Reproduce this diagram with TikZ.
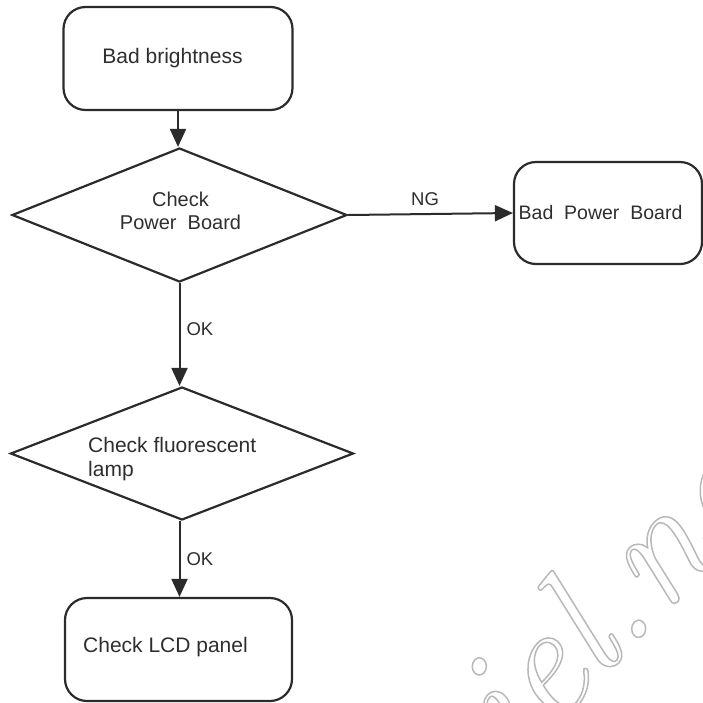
\documentclass[tikz,border=0pt]{standalone}
\usepackage{fontspec}
\setmainfont{Liberation Sans}
\newfontfamily\wmfont{Latin Modern Roman}
\usetikzlibrary{shapes.geometric,arrows.meta}
\definecolor{ink}{HTML}{2B2B2B}
\definecolor{txt}{HTML}{2E2E2E}
\tikzset{
  rbox/.style={draw=ink, line width=2.2pt, rounded corners=22pt, inner sep=0pt},
  dia/.style={draw=ink, line width=2.2pt, shape=diamond, inner sep=0pt},
  lbl/.style={text=txt, font=\fontsize{21}{24}\selectfont, inner sep=0pt},
  small/.style={text=txt, font=\fontsize{18.5}{21}\selectfont, inner sep=0pt},
  conn/.style={draw=ink, line width=2pt, -{Triangle[length=18pt,width=16pt]}}
}
\begin{document}
\begin{tikzpicture}[x=1pt,y=-1pt]
\useasboundingbox (0,0) rectangle (703,702);
% watermark
\node[rotate=46, anchor=base west, inner sep=0pt] (wm) at (515,768)
  {\fontsize{160}{160}\selectfont\wmfont\itshape\color[gray]{0.72}\special{pdf:literal direct 1 Tr 1.5 w}iel.net\special{pdf:literal direct 0 Tr}};
% boxes
\node[rbox, minimum width=229pt, minimum height=103pt] (b1) at (178,58.5) {};
\node[lbl] (t1) at (172.5,58) {Bad brightness};
\node[dia, minimum width=335pt, minimum height=134pt] (d1) at (179.5,215) {};
\node[lbl, font=\fontsize{20}{23}\selectfont, align=center, anchor=north] (t2) at (180.5,192) {Check\\Power~~Board};
\node[rbox, minimum width=188pt, minimum height=102pt] (b2) at (608,213) {};
\node[lbl, font=\fontsize{19.5}{23}\selectfont, anchor=west] (t3) at (518.5,213) {Bad~~Power~~Board};
\node[dia, minimum width=343pt, minimum height=133pt] (d2) at (182,453.5) {};
\node[lbl, align=left, anchor=north west] (t4) at (88,437) {Check fluorescent\\lamp};
\node[rbox, minimum width=227pt, minimum height=103pt] (b3) at (178.5,649.5) {};
\node[lbl] (t5) at (165.5,647) {Check LCD panel};
% connectors
\draw[conn] (b1.south) -- (b1.south |- d1.north);
\draw[conn] (d1.east) -- (b2.west) node[small, pos=0.467, above=7pt] (ng) {NG};
\draw[conn] (d1.south) -- (d1.south |- d2.north) node[small, pos=0.45, right=6pt] (ok1) {OK};
\draw[conn] (d2.south -| d1.south) -- (d1.south |- b3.north) node[small, pos=0.5, right=6pt] (ok2) {OK};
\end{tikzpicture}
\end{document}
